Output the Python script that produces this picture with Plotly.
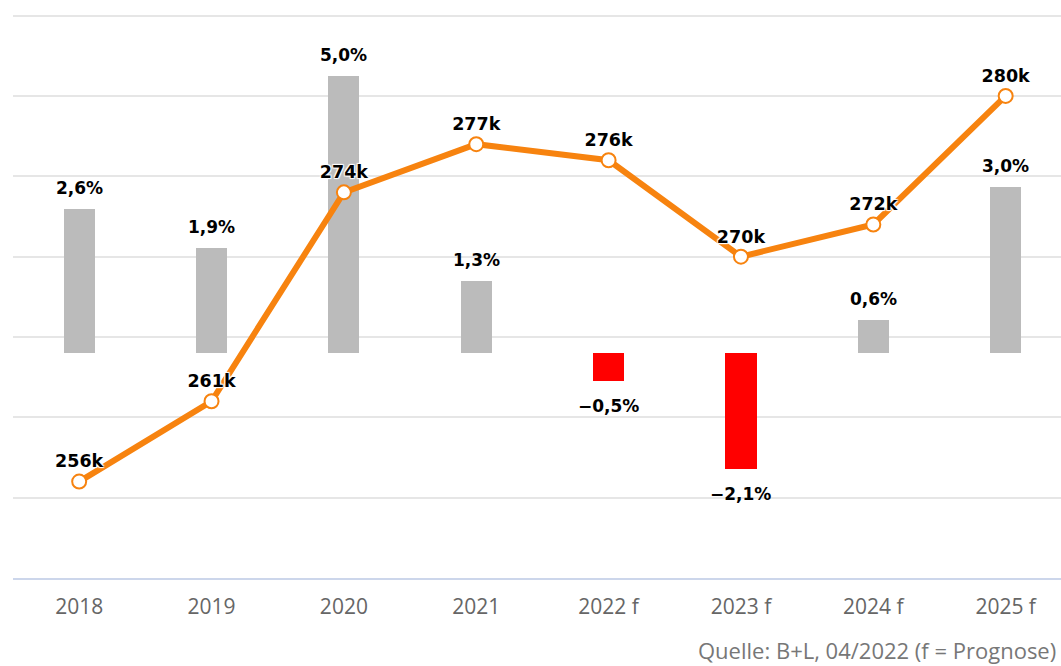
import plotly.graph_objects as go

categories = ["2018", "2019", "2020", "2021", "2022 f", "2023 f", "2024 f", "2025 f"]
growth_pct = [2.6, 1.9, 5.0, 1.3, -0.5, -2.1, 0.6, 3.0]
volume_k = [256, 261, 274, 277, 276, 270, 272, 280]
source_note = "Quelle: B+L, 04/2022 (f = Prognose)"

def pct_label(v):
    s = f"{abs(v):.1f}".replace(".", ",") + "%"
    return ("\u2212" + s) if v < 0 else s

bar_colors = ["#ff0000" if v < 0 else "#bbbbbb" for v in growth_pct]
bar_text = [pct_label(v) for v in growth_pct]
line_text = [f"{v}k" for v in volume_k]

outline = "1px 1px 1px #fff, -1px -1px 1px #fff, 1px -1px 1px #fff, -1px 1px 1px #fff"
label_font = dict(family="DejaVu Sans", size=17, color="#000", weight="bold")

fig = go.Figure()
fig.add_trace(go.Bar(
    x=categories, y=growth_pct, marker=dict(color=bar_colors, line=dict(width=0)),
    width=0.235, yaxis="y", showlegend=False, hoverinfo="skip",
))
fig.add_trace(go.Scatter(
    x=categories, y=volume_k, yaxis="y2", mode="lines+markers+text",
    line=dict(color="#f7830f", width=6),
    marker=dict(size=14, color="#ffffff", line=dict(color="#f7830f", width=2)),
    text=line_text, textposition="top center",
    textfont=dict(family="DejaVu Sans", size=17.5, color="#000", weight="bold", shadow=outline),
    cliponaxis=False, showlegend=False, hoverinfo="skip",
))

annotations = []
for i, (v, t) in enumerate(zip(growth_pct, bar_text)):
    annotations.append(dict(
        x=i, y=v, xref="x", yref="y", text=t, showarrow=False,
        yanchor="middle", yshift=21 if v >= 0 else -25, font=label_font,
    ))
annotations.append(dict(
    text=source_note, xref="paper", yref="paper", x=1, y=-0.127,
    xanchor="right", yanchor="middle", showarrow=False, xshift=-3,
    font=dict(family="Open Sans", size=22, color="#777777"),
))

fig.update_layout(
    width=1061, height=666,
    margin=dict(l=13, r=0, t=10, b=88),
    paper_bgcolor="#ffffff", plot_bgcolor="#ffffff",
    bargap=0,
    xaxis=dict(
        type="category", range=[-0.5, 7.418], showgrid=False,
        showline=True, linecolor="#ccd6eb", linewidth=1.5,
        ticks="outside", ticklen=9, tickcolor="rgba(0,0,0,0)",
        tickfont=dict(family="Open Sans", size=21, color="#666666"),
        zeroline=False, fixedrange=True,
    ),
    yaxis=dict(
        range=[-4.056, 6.182], showgrid=False, zeroline=False,
        showticklabels=False, fixedrange=True,
    ),
    yaxis2=dict(
        range=[250, 285.35], overlaying="y", side="right", dtick=5, tick0=250,
        showgrid=True, gridcolor="#e6e6e6", gridwidth=1.5, zeroline=False,
        showticklabels=False, fixedrange=True,
    ),
    annotations=annotations,
)

fig.write_html("out.html", post_script="document.body.style.margin='0';",
               config={"displayModeBar": False})
